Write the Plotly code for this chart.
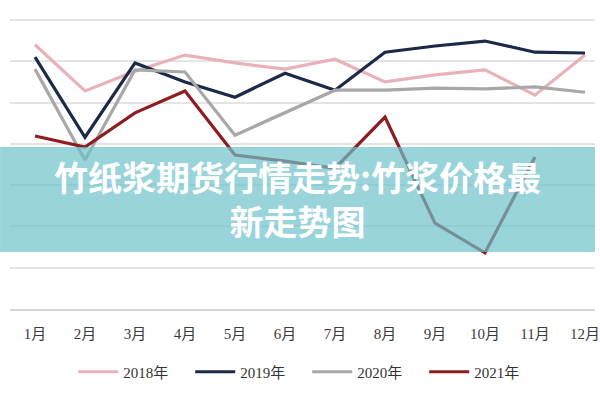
import plotly.graph_objects as go

months = ["1月", "2月", "3月", "4月", "5月", "6月", "7月", "8月", "9月", "10月", "11月", "12月"]
y2018 = [6700, 6140, 6380, 6575, 6480, 6405, 6525, 6250, 6335, 6395, 6090, 6575]
y2019 = [6550, 5580, 6480, 6250, 6065, 6355, 6150, 6610, 6685, 6745, 6610, 6600]
y2020 = [6405, 5305, 6395, 6370, 5605, 5875, 6150, 6150, 6175, 6165, 6190, 6125]
y2021 = [5595, 5460, 5875, 6140, 5365, 5290, 5205, 5825, 4540, 4180, 5340, None]
series_names = ["2018年", "2019年", "2020年", "2021年"]
colors = ["#e8b2b8", "#1c2a48", "#a8a8a8", "#8e1c20"]
title_text = "竹纸浆期货行情走势:竹浆价格最<br>新走势图"

fig = go.Figure()
for name, ys, c in zip(series_names, [y2018, y2019, y2020, y2021], colors):
    fig.add_trace(go.Scatter(x=months, y=ys, name=name, mode="lines",
                             line=dict(color=c, width=3.2), connectgaps=False))

W, H = 600, 400
L, R, T, B = 10, 0, 18, 91
pw = W - L - R
ph = H - T - B

def px_x(x):
    return (x - L) / pw

def px_y(y):
    return (H - B - y) / ph

fig.update_layout(
    width=W, height=H,
    margin=dict(l=L, r=R, t=T, b=B),
    paper_bgcolor="white", plot_bgcolor="white",
    showlegend=True,
    legend=dict(orientation="h", xref="container", yref="container",
                x=0.512, xanchor="center", y=1 - 372 / 400, yanchor="middle",
                font=dict(family="Liberation Serif, Noto Sans CJK SC", size=15, color="#333333"),
                entrywidth=62, entrywidthmode="pixels", itemwidth=40,
                bgcolor="rgba(0,0,0,0)"),
    xaxis=dict(type="category", range=[-0.5, 11.2], showgrid=False,
               showline=True, linecolor="#d6d6d6", linewidth=2,
               ticks="outside", ticklen=10, tickcolor="rgba(0,0,0,0)",
               tickfont=dict(family="Liberation Serif, Noto Sans CJK SC", size=15, color="#3a3a3a"),
               fixedrange=True),
    yaxis=dict(range=[3500, 7024], dtick=500, tick0=3500, showticklabels=False,
               showgrid=True, gridcolor="#e4e4e4", gridwidth=1.5, zeroline=False,
               fixedrange=True),
)

fig.add_shape(type="rect", xref="paper", yref="paper",
              x0=px_x(0), x1=px_x(600), y0=px_y(252), y1=px_y(147),
              fillcolor="rgba(108,194,202,0.7)", line=dict(width=0), layer="above")

fig.add_annotation(text=title_text, xref="paper", yref="paper",
                   x=px_x(300), y=px_y(198), xanchor="center", yanchor="middle",
                   showarrow=False, align="center",
                   font=dict(family="Noto Sans CJK SC", size=34, color="white", weight="bold"))

fig.write_html("out.html", config={"displayModeBar": False})
